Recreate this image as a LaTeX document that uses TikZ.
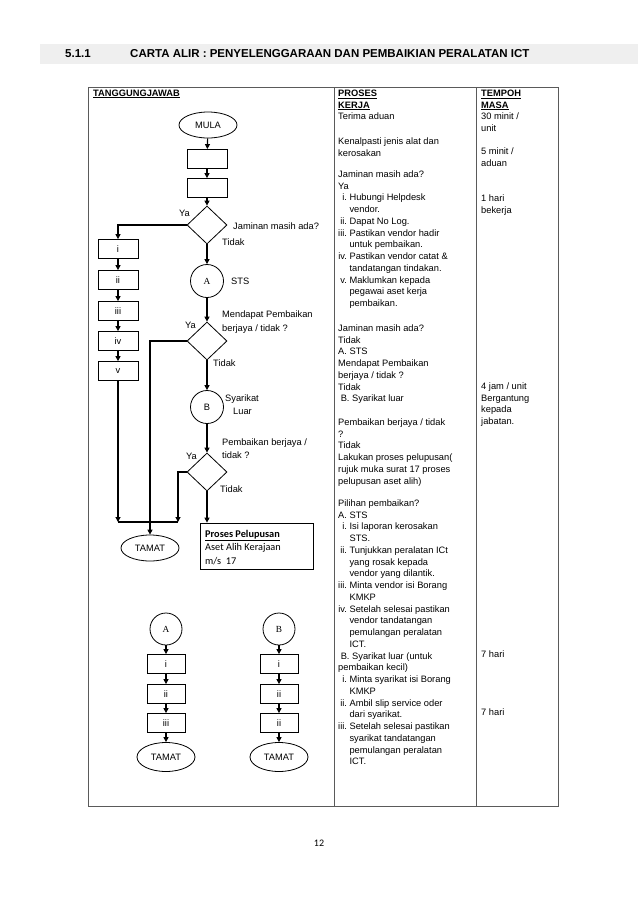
\documentclass[tikz,border=0pt]{standalone}
\usepackage{fontspec}
\setmainfont{Liberation Sans}
\newfontfamily\serifA{Liberation Serif}
\newfontfamily\calib{Carlito}
\usetikzlibrary{arrows.meta,shapes.geometric}
\newcommand\fsz{\fontsize{9.3}{11.75}\selectfont}
\newcommand\hd[1]{\underline{\textbf{#1}}}
\newcommand\fl[1]{\multicolumn{2}{@{}l@{}}{#1}}
\definecolor{band}{HTML}{EFEFEF}
\definecolor{rule}{HTML}{5A5A5A}
\begin{document}
\begin{tikzpicture}[x=1pt,y=-1pt,
  flow/.style={line width=1.1pt,-{Triangle[length=5pt,width=5pt]}},
  plain/.style={line width=1.1pt},
  pbox/.style={draw,line width=0.8pt,minimum width=40pt,minimum height=19pt,inner sep=0pt,font=\fsz},
  term/.style={draw,ellipse,line width=0.8pt,minimum width=58pt,minimum height=26pt,inner sep=0pt,font=\fsz},
  dec/.style={draw,diamond,line width=0.8pt,minimum width=40pt,minimum height=38pt,inner sep=0pt},
  conn/.style={draw,circle,line width=0.8pt,minimum size=33pt,inner sep=0pt},
  lbl/.style={inner sep=0pt,anchor=west,font=\fsz},
  col/.style={inner sep=0pt,anchor=north west,font=\fsz},
  tline/.style={draw=rule,line width=1pt}
]
\useasboundingbox (0,0) rectangle (638,903);
% header band
\fill[band] (40,44) rectangle (638,64);
\node[inner sep=0pt,anchor=west,font=\fontsize{11.5}{13}\selectfont\bfseries] (num) at (65,54) {5.1.1};
\node[inner sep=0pt,anchor=west,font=\fontsize{11.5}{13}\selectfont\bfseries] (title) at (130,54) {CARTA ALIR : PENYELENGGARAAN DAN PEMBAIKIAN PERALATAN ICT};
% table
\draw[tline] (88,87) rectangle (558,806);
\draw[tline] (334,87) -- (334,806);
\draw[tline] (476,87) -- (476,806);
\node[inner sep=0pt,anchor=west,font=\fontsize{9.3}{10}\selectfont] (tj) at (93,94) {\hd{TANGGUNGJAWAB}};
% middle column
\node[col] (p1) at (338,88) {\begin{tabular}{@{}l@{}}\hd{PROSES}\\ \hd{KERJA}\\ Terima aduan\end{tabular}};
\node[col] (p2) at (338,136) {\begin{tabular}{@{}l@{}}Kenalpasti jenis alat dan\\ kerosakan\end{tabular}};
\node[col] (p3) at (338,169) {\begin{tabular}{@{}r@{\ }l@{}}
\fl{Jaminan masih ada?}\\
\fl{Ya}\\
i. & Hubungi Helpdesk\\
 & vendor.\\
ii. & Dapat No Log.\\
iii. & Pastikan vendor hadir\\
 & untuk pembaikan.\\
iv. & Pastikan vendor catat \&\\
 & tandatangan tindakan.\\
v. & Maklumkan kepada\\
 & pegawai aset kerja\\
 & pembaikan.
\end{tabular}};
\node[col] (p4) at (338,323) {\begin{tabular}{@{}l@{}}Jaminan masih ada?\\ Tidak\\ A. STS\\ Mendapat Pembaikan\\ berjaya / tidak ?\\ Tidak\\ \ B. Syarikat luar\end{tabular}};
\node[col] (p5) at (338,417) {\begin{tabular}{@{}l@{}}Pembaikan berjaya / tidak\\ ?\\ Tidak\\ Lakukan proses pelupusan(\\ rujuk muka surat 17 proses\\ pelupusan aset alih)\end{tabular}};
\node[col] (p6) at (338,498) {\begin{tabular}{@{}r@{\ }l@{}}
\fl{Pilihan pembaikan?}\\
\fl{A. STS}\\
i. & Isi laporan kerosakan\\
 & STS.\\
ii. & Tunjukkan peralatan ICt\\
 & yang rosak kepada\\
 & vendor yang dilantik.\\
iii. & Minta vendor isi Borang\\
 & KMKP\\
iv. & Setelah selesai pastikan\\
 & vendor tandatangan\\
 & pemulangan peralatan\\
 & ICT.\\
\fl{\ B. Syarikat luar (untuk}\\
\fl{pembaikan kecil)}\\
i. & Minta syarikat isi Borang\\
 & KMKP\\
ii. & Ambil slip service oder\\
 & dari syarikat.\\
iii. & Setelah selesai pastikan\\
 & syarikat tandatangan\\
 & pemulangan peralatan\\
 & ICT.
\end{tabular}};
% right column
\node[col] (r1) at (481,88) {\begin{tabular}{@{}l@{}}\hd{TEMPOH}\\ \hd{MASA}\\ 30 minit /\\ unit\end{tabular}};
\node[col] (r2) at (481,146) {\begin{tabular}{@{}l@{}}5 minit /\\ aduan\end{tabular}};
\node[col] (r3) at (481,193) {\begin{tabular}{@{}l@{}}1 hari\\ bekerja\end{tabular}};
\node[col] (r4) at (481,381) {\begin{tabular}{@{}l@{}}4 jam / unit\\ Bergantung\\ kepada\\ jabatan.\end{tabular}};
\node[col] (r5) at (481,651) {7 hari};
\node[col] (r6) at (481,709) {7 hari};
% flowchart
\node[term] (mula) at (208,125) {MULA};
\node[pbox] (b1) at (207,159) {};
\node[pbox] (b2) at (207,188) {};
\node[dec] (d1) at (207,225) {};
\node[conn,font=\serifA\fsz] (A) at (207,281) {A};
\node[dec] (d2) at (207,341) {};
\node[conn,font=\fsz] (B) at (207,407) {B};
\node[dec] (d3) at (207,472) {};
\node[pbox] (i1) at (118,249) {i};
\node[pbox] (i2) at (118,280) {ii};
\node[pbox] (i3) at (118,311) {iii};
\node[pbox] (i4) at (118,341) {iv};
\node[pbox] (i5) at (118,371) {v};
\node[term] (tamat) at (150,548) {TAMAT};
\node[draw,line width=0.8pt,minimum width=113pt,minimum height=46pt,inner sep=0pt] (proses) at (256.5,546) {};
\node[inner sep=0pt,anchor=north west,align=left,font=\calib\fontsize{10.3}{13.5}\selectfont] (prosestxt) at (205,530) {\underline{\textbf{Proses Pelupusan}}\\Aset Alih Kerajaan\\m/s~~17};
\coordinate (m1) at (118,522);
\coordinate (m2) at (178,522);
% labels
\node[lbl] (ya1) at (179,213) {Ya};
\node[lbl] (q1) at (233,226) {Jaminan masih ada?};
\node[lbl] (t1) at (222,242) {Tidak};
\node[lbl] (sts) at (231,281) {STS};
\node[lbl] (ya2) at (185,325) {Ya};
\node[lbl] (q2a) at (222,315) {Mendapat Pembaikan};
\node[lbl] (q2b) at (222,329) {berjaya / tidak ?};
\node[lbl] (t2) at (213,363) {Tidak};
\node[lbl] (sy) at (225,399) {Syarikat};
\node[lbl] (lu) at (233,411) {Luar};
\node[lbl] (q3a) at (222,443) {Pembaikan berjaya /};
\node[lbl] (q3b) at (222,455) {tidak ?};
\node[lbl] (ya3) at (186,456) {Ya};
\node[lbl] (t3) at (220,489) {Tidak};
% connectors
\draw[flow] (mula) -- (b1);
\draw[flow] (b1) -- (b2);
\draw[flow] (b2) -- (d1);
\draw[flow] (d1.west) -| (i1.north);
\draw[flow] (i1) -- (i2);
\draw[flow] (i2) -- (i3);
\draw[flow] (i3) -- (i4);
\draw[flow] (i4) -- (i5);
\draw[flow] (d1) -- (A);
\draw[flow] (A) -- (d2);
\draw[flow] (d2.west) -| (tamat.north);
\draw[flow] (d2) -- (B);
\draw[flow] (B) -- (d3);
\draw[flow] (d3.south) -- (d3.south |- proses.north);
\draw[flow] (i5.south) -- (m1);
\draw[flow] (d3.west) -| (m2);
\draw[plain] (m1) -- (m2);
% bottom sub-charts
\node[conn,font=\serifA\fsz,minimum size=32pt] (A2) at (166,629) {A};
\node[pbox,minimum width=38pt] (a1) at (166,664) {i};
\node[pbox,minimum width=38pt] (a2) at (166,694) {ii};
\node[pbox,minimum width=38pt] (a3) at (166,723) {iii};
\node[term,minimum height=29pt] (ta) at (166,757) {TAMAT};
\node[conn,font=\serifA\fsz,minimum size=32pt] (B2) at (279,629) {B};
\node[pbox,minimum width=38pt] (c1) at (279,664) {i};
\node[pbox,minimum width=38pt] (c2) at (279,694) {ii};
\node[pbox,minimum width=38pt] (c3) at (279,723) {ii};
\node[term,minimum height=29pt] (tb) at (279,757) {TAMAT};
\draw[flow] (A2) -- (a1);
\draw[flow] (a1) -- (a2);
\draw[flow] (a2) -- (a3);
\draw[flow] (a3) -- (ta);
\draw[flow] (B2) -- (c1);
\draw[flow] (c1) -- (c2);
\draw[flow] (c2) -- (c3);
\draw[flow] (c3) -- (tb);
% page number
\node[inner sep=0pt,font=\calib\fontsize{10}{12}\selectfont] (pg) at (319,843) {12};
\end{tikzpicture}
\end{document}
